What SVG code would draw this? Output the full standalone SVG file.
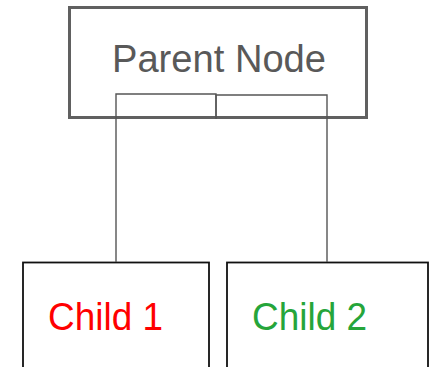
<svg xmlns="http://www.w3.org/2000/svg" width="436" height="367" viewBox="0 0 436 367">
<style>
.parent{fill:#fff;stroke:#606060;stroke-width:3}
.child{fill:#fff;stroke:#111;stroke-width:1.8}
.conn{fill:none;stroke:#555;stroke-width:1.4}
text{font-family:"Liberation Sans",Arial,sans-serif;font-size:38px}
</style>
<rect width="436" height="367" fill="#fff"/>
<g id="parent">
<rect class="parent" x="69.5" y="7.5" width="297" height="110"/>
<text x="112" y="72" fill="#595959" textLength="214" lengthAdjust="spacingAndGlyphs">Parent Node</text>
</g>
<g id="child1">
<rect class="child" x="23" y="262.5" width="186" height="130"/>
<text x="48" y="330" fill="#ff0000" textLength="115" lengthAdjust="spacingAndGlyphs">Child 1</text>
</g>
<g id="child2">
<rect class="child" x="227" y="262.5" width="201" height="130"/>
<text x="252" y="330" fill="#26a53a" textLength="115" lengthAdjust="spacingAndGlyphs">Child 2</text>
</g>
<g id="connectors">
<path class="conn" d="M216,119 V94 H116 V262"/>
<path class="conn" d="M216,119 V95 H327 V262"/>
</g>
</svg>
